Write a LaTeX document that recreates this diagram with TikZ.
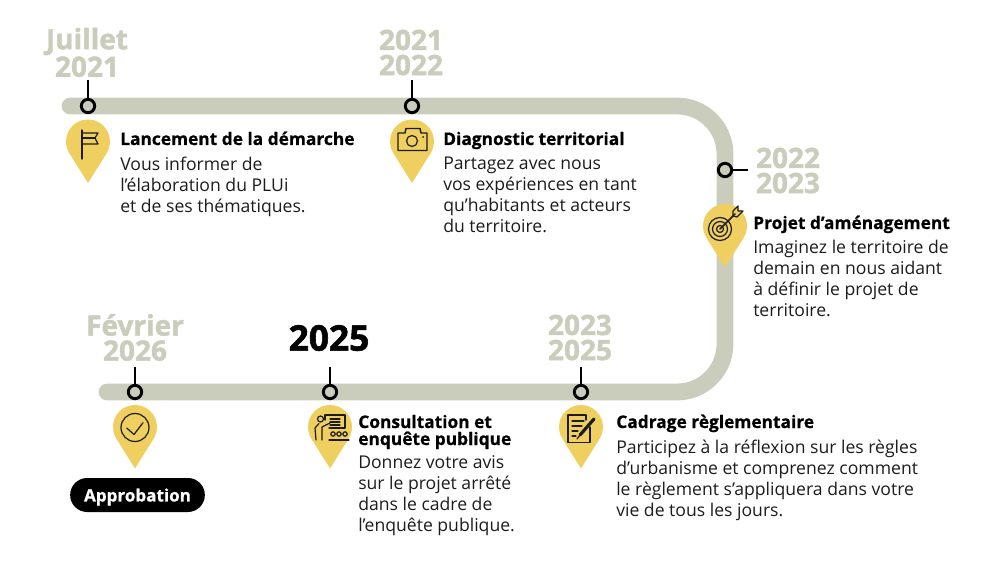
\documentclass[tikz,border=0pt]{standalone}
\usepackage{fontspec}
\setmainfont{Open Sans}
\newfontfamily\yearfont[BoldFeatures={FakeBold=1.6}]{Open Sans}
\newfontfamily\titlefont[BoldFeatures={FakeBold=.7}]{Open Sans}
\definecolor{track}{HTML}{CBCDBC}
\definecolor{pinyellow}{HTML}{EFCF5F}
\definecolor{ink}{HTML}{1C1C1C}
\tikzset{
  trackline/.style = {track, line width = 12.6pt, rounded corners = 36pt},
  dot/.style = {draw = black, circle, fill = track, line width = 2.2pt, minimum size = 10pt, inner sep = 0pt},
  tick/.style = {black, line width = 1.3pt},
  year/.style = {track, align = center, inner sep = 0pt, font = \yearfont\bfseries\fontsize{21}{18.8}\selectfont},
  title/.style = {anchor = base west, inner sep = 0pt, black, align = left, font = \titlefont\bfseries\fontsize{13}{12.75}\selectfont},
  body/.style = {anchor = north west, inner sep = 0pt, ink, align = left, font = \fontsize{13.2}{15.75}\selectfont},
  icon/.style = {ink, line width = .9pt, line join = round, line cap = round},
  pin/.pic = {
    \fill[pinyellow] (0,0) circle (22);
    \fill[pinyellow] (0,41.5) -- (-18.66,11.66) -- (18.66,11.66) -- cycle;
  }
}
\begin{document}
\begin{tikzpicture}[x = .75pt, y = -.75pt]
\useasboundingbox (0,0) rectangle (1000,563);
\coordinate (s1) at (70,106);
\coordinate (s2) at (725,106);
\coordinate (s3) at (725,392);
\coordinate (s4) at (107,392);
\draw[trackline, line cap = round] (s1) -- (s2) -- (s3) -- (s4);

\node[dot](d1) at (88,106){};
\node[dot](d2) at (412,106){};
\node[dot](d3) at (725,170){};
\node[dot](d4) at (135,392){};
\node[dot](d5) at (330,392){};
\node[dot](d6) at (581,392){};
\coordinate (t1) at (88,80);
\coordinate (t2) at (412,80);
\coordinate (t3) at (748,170);
\coordinate (t4) at (135,367);
\coordinate (t5) at (330,367);
\coordinate (t6) at (581,367);
\draw[tick] (t1) -- (d1);
\draw[tick] (t2) -- (d2);
\draw[tick] (t3) -- (d3);
\draw[tick] (t4) -- (d4);
\draw[tick] (t5) -- (d5);
\draw[tick] (t6) -- (d6);

\node[year](y1) at (87,52.5){Juillet\\2021};
\node[year](y2) at (411,52.5){2021\\2022};
\node[year](y3) at (788,170.5){2022\\2023};
\node[year](y4) at (135,337.5){Février\\2026};
\node[year, black, font = \yearfont\bfseries\fontsize{26.5}{25}\selectfont](y5) at (329,338){2025};
\node[year](y6) at (580,337.5){2023\\2025};

\pic at (88,141.5) {pin};
\pic at (412,141.5) {pin};
\pic at (725,226) {pin};
\pic at (135,427) {pin};
\pic at (330,427) {pin};
\pic at (581,427) {pin};

% flag
\draw[icon] (82,130) -- (82,159);
\draw[icon] (82,133) -- (98,133) -- (95,138) -- (98,144) -- (82,144);
\draw[icon] (82,138) -- (95,138);
% camera
\draw[icon, line width = 1.1pt] (398,133) -- (405,133) -- (406,128.5) -- (420,128.5) -- (421,133) -- (427,133) -- (427,150.5) -- (398,150.5) -- cycle;
\draw[icon] (412,141) circle (5.5);
\fill[ink] (423,137) circle (1);
% target
\draw[icon] (720,229) circle (11.5);
\draw[icon] (720,229) circle (7.5);
\draw[icon] (720,229) circle (3.5);
\draw[icon, line width = 1.1pt] (720,229) -- (735,214);
\draw[icon] (733,211) -- (738,206) -- (738,211) -- (743,211) -- (737,217) -- (733,216) -- cycle;
% check
\draw[icon] (135,427.5) circle (14);
\draw[icon] (126.7,428) -- (134,434.5) -- (143,422.7);
% teacher
\draw[icon] (325,420) -- (325,415) -- (345,415) -- (345,428) -- (329,428);
\draw[icon] (330,419) -- (340,419) (330,422) -- (340,422) (330,425) -- (340,425);
\draw[icon] (320.5,419) circle (3);
\draw[icon] (330,423) -- (322,427) -- (322,440) (316,440) -- (315,428) -- (319,423.5);
\draw[icon] (333,434) circle (2.2) (339,434) circle (2.2) (345,434) circle (2.2);
\draw[icon] (329,440) -- (349,440);
% document
\draw[icon] (586,420) -- (586,415) -- (568,415) -- (568,442.5) -- (590,442.5) -- (590,427);
\draw[icon] (572,421) -- (584,421) (572,426) -- (582,426) (572,431) -- (578,431) (572,436) -- (576,436);
\draw[icon, line width = 2.4pt] (594,419) -- (580,435);
\draw[icon] (580,435) -- (577,439);

\node[title](h1) at (120,145){Lancement de la démarche};
\node[body](b1) at (120,157){Vous informer de\\l’élaboration du PLUi\\et de ses thématiques.};
\node[title](h2) at (443,145){Diagnostic territorial};
\node[body](b2) at (443,157){Partagez avec nous\\vos expériences en tant\\qu’habitants et acteurs\\du territoire.};
\node[title](h3) at (753,229){Projet d’aménagement};
\node[body](b3) at (753,240){Imaginez le territoire de\\demain en nous aidant\\à définir le projet de\\territoire.};
\node[title](h4) at (358,445){Consultation et\\enquête publique};
\node[body](b4) at (358,455.5){Donnez votre avis\\sur le projet arrêté\\dans le cadre de\\l’enquête publique.};
\node[title](h5) at (616,428){Cadrage règlementaire};
\node[body](b5) at (616,440){Participez à la réflexion sur les règles\\d’urbanisme et comprenez comment\\le règlement s’appliquera dans votre\\vie de tous les jours.};

\node[fill = black, rounded corners = 12.7pt, minimum width = 101pt, minimum height = 25.5pt, inner sep = 0pt, text depth = 0pt, text = white, font = \titlefont\bfseries\fontsize{12.8}{13}\selectfont](a1) at (137.5,495){Approbation};
\end{tikzpicture}
\end{document}
